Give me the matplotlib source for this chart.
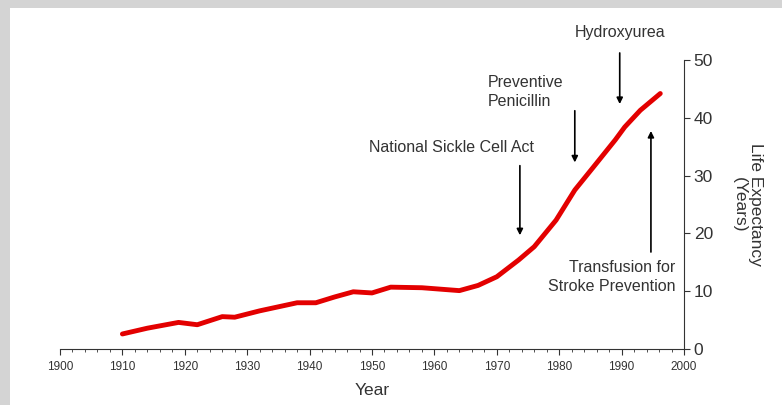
import matplotlib.pyplot as plt
from matplotlib.patches import Rectangle

plt.rcParams['font.family'] = ['Liberation Sans', 'DejaVu Sans']

years = [1910, 1914, 1919, 1922, 1926, 1928, 1932, 1935, 1938, 1941, 1944, 1947,
         1950, 1953, 1958, 1964, 1967, 1970, 1973.5, 1976, 1979.5, 1982.5, 1985.5,
         1989, 1990.5, 1993, 1996.2]
life = [2.6, 3.6, 4.6, 4.2, 5.6, 5.5, 6.6, 7.3, 8.0, 8.0, 9.0, 9.9,
        9.7, 10.7, 10.6, 10.1, 11.0, 12.5, 15.4, 17.7, 22.3, 27.5, 31.5,
        36.2, 38.4, 41.3, 44.2]

events = ['National Sickle Cell Act', 'Preventive\nPenicillin', 'Hydroxyurea',
          'Transfusion for\nStroke Prevention']

ink = '#333333'

fig = plt.figure(figsize=(7.82, 4.05), dpi=100)
fig.patch.set_facecolor('#d4d4d4')
fig.patches.append(Rectangle((10 / 782, 0), 1, 1 - 8 / 405, transform=fig.transFigure,
                             facecolor='white', edgecolor='none', zorder=-5))

ax = fig.add_axes([60 / 782, 56 / 405, 624 / 782, 289 / 405])
ax.set_zorder(2)
ax.patch.set_alpha(0)
ax.plot(years, life, color='#e30000', lw=3.5, solid_capstyle='round', zorder=3)

ax.set_xlim(1900, 2000)
ax.set_ylim(0, 50)
ax.spines['left'].set_visible(False)
ax.spines['top'].set_visible(False)
ax.spines['bottom'].set_color(ink)
ax.spines['right'].set_color(ink)
ax.yaxis.tick_right()
ax.yaxis.set_label_position('right')
ax.set_xticks(range(1900, 2001, 10))
ax.set_xticks(range(1900, 2001, 2), minor=True)
ax.set_yticks(range(0, 51, 10))
ax.tick_params(axis='x', labelsize=8.5, colors=ink, length=4, pad=5)
ax.tick_params(axis='x', which='minor', length=2, color=ink)
ax.tick_params(axis='y', labelsize=12.5, colors=ink, length=4, pad=3)
ax.set_xlabel('Year', fontsize=12.5, color=ink, labelpad=7)
ax.set_ylabel('Life Expectancy\n(Years)', fontsize=12.5, color=ink, rotation=-90,
              labelpad=36, linespacing=1.1)

arrow = dict(arrowstyle='-|>', color='black', lw=1.2, mutation_scale=9)

ax.annotate('', xy=(1973.7, 19.2), xytext=(1973.7, 32.2), arrowprops=arrow, annotation_clip=False)
ax.text(1962.8, 34.9, events[0], ha='center', va='center', fontsize=11.5, color=ink)

ax.annotate('', xy=(1982.5, 31.8), xytext=(1982.5, 41.7), arrowprops=arrow, annotation_clip=False)
ax.text(1968.6, 44.4, events[1], ha='left', va='center', fontsize=11.5, color=ink,
        linespacing=1.35)

ax.annotate('', xy=(1989.7, 41.9), xytext=(1989.7, 51.7), arrowprops=arrow, annotation_clip=False)
ax.text(1989.7, 54.7, events[2], ha='center', va='center', fontsize=11.5, color=ink,
        clip_on=False)

ax.annotate('', xy=(1994.7, 38.2), xytext=(1994.7, 16.3), arrowprops=arrow, annotation_clip=False)
ax.text(1998.6, 12.5, events[3], ha='right', va='center', fontsize=11.5, color=ink,
        linespacing=1.35)

fig.savefig('out.png', dpi=100, facecolor=fig.get_facecolor())
